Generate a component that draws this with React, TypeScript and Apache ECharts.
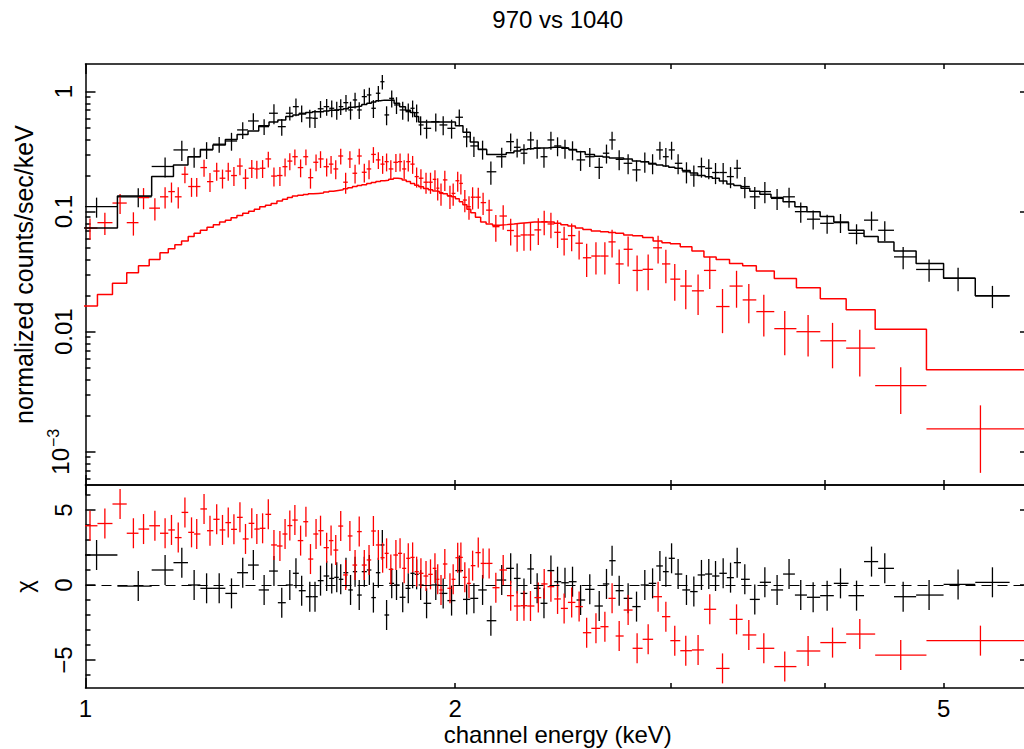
import React, { useEffect, useRef } from "react";
import * as echarts from "echarts";

// ---------- data (energies in keV, rates in counts/s/keV) ----------
const blackE = [
  1.021, 1.104, 1.161, 1.198, 1.226, 1.255, 1.285, 1.315, 1.343, 1.370,
  1.398, 1.424, 1.445, 1.467, 1.484, 1.500, 1.523, 1.538, 1.554, 1.572,
  1.587, 1.602, 1.614, 1.630, 1.644, 1.658, 1.671, 1.687, 1.703, 1.716,
  1.732, 1.745, 1.759, 1.776, 1.792, 1.813, 1.832, 1.847, 1.861, 1.875,
  1.896, 1.929, 1.956, 1.987, 2.016, 2.044, 2.072, 2.106, 2.139, 2.183,
  2.220, 2.247, 2.276, 2.305, 2.333, 2.363, 2.394, 2.424, 2.458, 2.493,
  2.531, 2.575, 2.621, 2.657, 2.685, 2.721, 2.767, 2.811, 2.855, 2.897,
  2.937, 2.970, 3.002, 3.039, 3.087, 3.130, 3.175, 3.219, 3.260, 3.307,
  3.353, 3.395, 3.444, 3.509, 3.576, 3.659, 3.742, 3.825, 3.915, 4.019,
  4.121, 4.247, 4.368, 4.478, 4.635, 4.866, 5.138, 5.480,
];
const blackRate = [
  0.110, 0.133, 0.238, 0.327, 0.287, 0.327, 0.365, 0.388, 0.480, 0.570,
  0.511, 0.661, 0.511, 0.661, 0.750, 0.661, 0.604, 0.600, 0.720, 0.750,
  0.727, 0.704, 0.750, 0.810, 0.704, 0.853, 0.704, 0.909, 0.939, 0.727,
  0.970, 1.210, 0.640, 0.880, 0.775, 0.704, 0.681, 0.727, 0.668, 0.528,
  0.495, 0.562, 0.528, 0.495, 0.612, 0.420, 0.353, 0.331, 0.215, 0.287,
  0.383, 0.344, 0.307, 0.396, 0.337, 0.287, 0.396, 0.353, 0.337, 0.327,
  0.270, 0.287, 0.234, 0.307, 0.396, 0.273, 0.253, 0.223, 0.261, 0.253,
  0.327, 0.287, 0.327, 0.253, 0.215, 0.202, 0.237, 0.230, 0.212, 0.212,
  0.196, 0.230, 0.162, 0.133, 0.147, 0.129, 0.133, 0.100, 0.0866, 0.080,
  0.081, 0.066, 0.085, 0.070, 0.042, 0.033, 0.0279, 0.0199,
];
const blackRelErr = [
  0.19, 0.18, 0.19, 0.19, 0.19, 0.16, 0.15, 0.17, 0.16, 0.16,
  0.15, 0.19, 0.16, 0.13, 0.17, 0.16, 0.17, 0.17, 0.16, 0.16,
  0.16, 0.17, 0.15, 0.16, 0.17, 0.15, 0.16, 0.15, 0.15, 0.17,
  0.15, 0.14, 0.18, 0.16, 0.16, 0.17, 0.17, 0.16, 0.17, 0.18,
  0.18, 0.17, 0.18, 0.18, 0.16, 0.18, 0.19, 0.18, 0.22, 0.19,
  0.17, 0.18, 0.19, 0.17, 0.18, 0.19, 0.17, 0.18, 0.18, 0.18,
  0.19, 0.18, 0.20, 0.18, 0.17, 0.19, 0.19, 0.20, 0.19, 0.19,
  0.17, 0.18, 0.17, 0.19, 0.20, 0.20, 0.19, 0.19, 0.20, 0.20,
  0.20, 0.18, 0.20, 0.21, 0.20, 0.20, 0.19, 0.19, 0.18, 0.18,
  0.18, 0.19, 0.18, 0.19, 0.21, 0.21, 0.22, 0.21,
];
const blackModel = [
  0.073, 0.135, 0.196, 0.245, 0.287, 0.33, 0.36, 0.40, 0.44, 0.47,
  0.52, 0.56, 0.58, 0.62, 0.64, 0.65, 0.67, 0.68, 0.68, 0.69,
  0.70, 0.70, 0.71, 0.72, 0.74, 0.75, 0.76, 0.78, 0.80, 0.82,
  0.84, 0.85, 0.85, 0.853, 0.80, 0.75, 0.70, 0.67, 0.62, 0.56,
  0.56, 0.56, 0.56, 0.56, 0.52, 0.46, 0.38, 0.33, 0.30, 0.30,
  0.31, 0.32, 0.33, 0.335, 0.34, 0.34, 0.344, 0.344, 0.34, 0.33,
  0.315, 0.30, 0.29, 0.285, 0.28, 0.28, 0.275, 0.265, 0.26, 0.25,
  0.245, 0.24, 0.235, 0.23, 0.22, 0.21, 0.20, 0.195, 0.19, 0.18,
  0.17, 0.165, 0.157, 0.148, 0.14, 0.131, 0.121, 0.110, 0.100, 0.091,
  0.082, 0.070, 0.062, 0.056, 0.047, 0.037, 0.0279, 0.0199,
];
const blackChi = [
  2.0, -0.07, 1.0, 1.49, 0, -0.22, -0.22, -0.56, 0.82, 1.33,
  -0.33, 0.93, -1.18, 0, 0.78, -0.38, -0.78, -0.78, 0.29, 0.6,
  0.44, 0.51, 0.38, 0.82, -0.33, 0.89, -0.67, 0.89, 1.0, -0.84,
  0.82, 2.67, -2.0, 0.11, 0, -0.82, -0.22, 0.78, 0.71, 0,
  -1.22, 0, -0.56, -1.04, 0.96, -0.96, -0.89, -0.33, -2.38, 0.33,
  1.11, 0.44, -0.56, 1.07, -0.22, -1.22, 0.96, 0.22, 0.15, 0.22,
  -1.0, -0.29, -1.4, 0.07, 1.62, -0.38, -0.89, -1.44, 0, 0.11,
  1.27, 0.89, 1.78, 0.73, -0.33, -0.44, 0.67, 0.73, 0.6, 0.78,
  0.49, 1.49, 0.38, -0.96, 0.18, -0.33, 0.73, -0.67, -0.82, -0.71,
  0.11, -0.71, 1.56, 1.11, -0.78, -0.67, 0.04, 0.18,
];

const redE = [
  1.0085, 1.037, 1.067, 1.094, 1.115, 1.139, 1.161, 1.175, 1.190, 1.205,
  1.220, 1.232, 1.249, 1.263, 1.279, 1.293, 1.307, 1.321, 1.336, 1.350,
  1.366, 1.379, 1.394, 1.409, 1.424, 1.440, 1.454, 1.467, 1.481, 1.497,
  1.512, 1.525, 1.541, 1.554, 1.572, 1.585, 1.599, 1.614, 1.629, 1.642,
  1.658, 1.671, 1.687, 1.702, 1.716, 1.732, 1.746, 1.759, 1.773, 1.790,
  1.804, 1.818, 1.832, 1.847, 1.861, 1.876, 1.894, 1.910, 1.926, 1.936,
  1.948, 1.962, 1.981, 1.993, 2.010, 2.022, 2.037, 2.053, 2.067, 2.089,
  2.108, 2.132, 2.159, 2.189, 2.220, 2.247, 2.276, 2.304, 2.338, 2.364,
  2.394, 2.424, 2.454, 2.489, 2.524, 2.560, 2.605, 2.649, 2.685, 2.721,
  2.767, 2.814, 2.873, 2.927, 2.970, 3.020, 3.083, 3.155, 3.225, 3.303,
  3.391, 3.470, 3.569, 3.712, 3.878, 4.060, 4.273, 4.614, 5.358,
];
const redRate = [
  0.073, 0.081, 0.118, 0.081, 0.131, 0.107, 0.133, 0.147, 0.133, 0.205,
  0.162, 0.162, 0.233, 0.178, 0.218, 0.190, 0.218, 0.200, 0.240, 0.190,
  0.230, 0.227, 0.230, 0.275, 0.198, 0.200, 0.237, 0.264, 0.287, 0.233,
  0.287, 0.192, 0.258, 0.275, 0.237, 0.249, 0.227, 0.291, 0.176, 0.275,
  0.209, 0.291, 0.213, 0.227, 0.300, 0.270, 0.249, 0.261, 0.227, 0.258,
  0.261, 0.227, 0.261, 0.249, 0.196, 0.190, 0.176, 0.176, 0.186, 0.157,
  0.142, 0.184, 0.135, 0.142, 0.181, 0.172, 0.125, 0.110, 0.132, 0.132,
  0.119, 0.103, 0.075, 0.092, 0.0697, 0.0626, 0.064, 0.064, 0.0705, 0.0826,
  0.079, 0.0673, 0.059, 0.0632, 0.0546, 0.0413, 0.0427, 0.0427, 0.056, 0.0367,
  0.0486, 0.0324, 0.0331, 0.050, 0.0367, 0.0274, 0.0240, 0.0219, 0.0324, 0.0162,
  0.0240, 0.0184, 0.0147, 0.0106, 0.0100, 0.0084, 0.0073, 0.00356, 0.00155,
];
const redRelErr = [
  0.20, 0.21, 0.19, 0.22, 0.20, 0.21, 0.20, 0.19, 0.20, 0.16,
  0.18, 0.18, 0.16, 0.18, 0.17, 0.18, 0.17, 0.18, 0.16, 0.19,
  0.17, 0.17, 0.17, 0.15, 0.18, 0.18, 0.17, 0.16, 0.15, 0.17,
  0.15, 0.19, 0.16, 0.16, 0.17, 0.17, 0.18, 0.15, 0.20, 0.16,
  0.18, 0.15, 0.18, 0.18, 0.15, 0.16, 0.17, 0.17, 0.18, 0.17,
  0.17, 0.18, 0.17, 0.17, 0.19, 0.19, 0.20, 0.20, 0.19, 0.21,
  0.21, 0.19, 0.22, 0.21, 0.19, 0.19, 0.21, 0.22, 0.21, 0.20,
  0.21, 0.22, 0.25, 0.23, 0.25, 0.26, 0.26, 0.26, 0.25, 0.23,
  0.24, 0.26, 0.27, 0.26, 0.27, 0.31, 0.30, 0.30, 0.26, 0.32,
  0.28, 0.33, 0.33, 0.26, 0.31, 0.34, 0.36, 0.37, 0.30, 0.40,
  0.34, 0.36, 0.38, 0.40, 0.38, 0.41, 0.42, 0.42, 0.57,
];
const redModel = [
  0.0164, 0.0204, 0.0253, 0.031, 0.0355, 0.040, 0.0455, 0.049, 0.053, 0.057,
  0.062, 0.066, 0.070, 0.074, 0.078, 0.082, 0.085, 0.089, 0.093, 0.097,
  0.101, 0.105, 0.110, 0.113, 0.117, 0.123, 0.127, 0.131, 0.135, 0.137,
  0.139, 0.141, 0.142, 0.143, 0.146, 0.148, 0.150, 0.152, 0.155, 0.158,
  0.162, 0.165, 0.168, 0.172, 0.175, 0.178, 0.181, 0.183, 0.186, 0.190,
  0.188, 0.184, 0.178, 0.172, 0.166, 0.161, 0.156, 0.152, 0.149, 0.147,
  0.144, 0.141, 0.136, 0.133, 0.128, 0.121, 0.114, 0.105, 0.098, 0.090,
  0.082, 0.079, 0.077, 0.078, 0.079, 0.080, 0.081, 0.082, 0.082, 0.082,
  0.082, 0.080, 0.078, 0.076, 0.073, 0.071, 0.069, 0.068, 0.067, 0.066,
  0.064, 0.063, 0.061, 0.057, 0.055, 0.054, 0.051, 0.047, 0.042, 0.040,
  0.037, 0.0355, 0.032, 0.0277, 0.0232, 0.0188, 0.0152, 0.0105, 0.00481,
];
const redChi = [
  3.95, 4.1, 5.4, 3.45, 3.73, 3.95, 3.45, 3.67, 3.16, 4.84,
  3.51, 3.4, 5.07, 3.62, 4.38, 3.67, 4.16, 3.71, 4.51, 3.07,
  4.11, 3.73, 3.78, 4.71, 2.67, 2.6, 3.4, 3.96, 4.33, 2.96,
  4.22, 1.73, 3.4, 3.62, 2.49, 2.96, 2.33, 3.93, 0.67, 3.27,
  1.33, 3.56, 1.33, 1.67, 3.6, 2.67, 1.82, 2.11, 1.04, 2.0,
  2.11, 1.11, 1.78, 1.84, 0.89, 0.78, 0.6, 0.71, 1.11, 0.38,
  -0.33, 1.4, -0.22, 0.38, 1.82, 1.84, 0.51, 0.11, 1.29, 2.16,
  1.44, 1.44, -0.18, 1.0, -0.71, -1.4, -1.38, -1.4, -0.84, 0.07,
  -0.11, -0.93, -1.56, -1.16, -1.44, -3.18, -2.89, -2.78, -0.89, -3.4,
  -1.67, -4.22, -3.62, -0.78, -2.11, -3.71, -4.38, -4.33, -1.62, -5.56,
  -2.29, -3.33, -4.22, -5.44, -4.4, -3.84, -3.27, -4.67, -3.71,
];
// explicit channel-group edges (keV) for the widest red bins: [edge index, energy]
const redWideEdges = [[107, 4.398], [108, 4.842], [109, 5.95]];

// ---------- axes ----------
const xRange = [1, 5.88];
const yRange = [5.28e-4, 1.70];
const chiRange = [-6.867, 6.667];
const xLabelVals = [1, 2, 5];
const xMajorTicks = [1];
const xMinorTicks = [2, 3, 4, 5];
const yLabelVals = [1, 0.1, 0.01, 0.001];
const yLabelTexts = ["1", "0.1", "0.01", "{m|10}{e|\u22123}"];
const yMinorTicks = [
  6e-4, 7e-4, 8e-4, 9e-4,
  0.002, 0.003, 0.004, 0.005, 0.006, 0.007, 0.008, 0.009,
  0.02, 0.03, 0.04, 0.05, 0.06, 0.07, 0.08, 0.09,
  0.2, 0.3, 0.4, 0.5, 0.6, 0.7, 0.8, 0.9,
];
const chiLabelVals = [5, 0, -5];
const chiLabelTexts = ["5", "0", "\u22125"];
const chiMinorTicks = [-6, -4, -3, -2, -1, 1, 2, 3, 4, 6];

const FONT = '"Liberation Sans", Arial, Helvetica, sans-serif';
const lg = Math.log10;
const BLACK = "#000000";
const RED = "#ff0000";

function nearest(vals: number[], v: number) {
  let best = 0;
  for (let i = 1; i < vals.length; i++) {
    if (Math.abs(vals[i] - v) < Math.abs(vals[best] - v)) best = i;
  }
  return best;
}

function binEdges(centers: number[], overrides: number[][]) {
  const n = centers.length;
  const edges: number[] = new Array(n + 1);
  for (let i = 1; i < n; i++) edges[i] = Math.sqrt(centers[i - 1] * centers[i]);
  edges[0] = (centers[0] * centers[0]) / edges[1];
  edges[n] = (centers[n - 1] * centers[n - 1]) / edges[n - 1];
  overrides.forEach(([i, e]) => (edges[i] = e));
  return edges;
}

function crossData(E: number[], rate: number[], rel: number[], edges: number[]) {
  return E.map((e, i) => {
    const v = rate[i];
    const er = v * rel[i];
    return [lg(edges[i]), lg(edges[i + 1]), lg(v), lg(v - er), lg(v + er), lg(e)];
  });
}

function chiData(E: number[], chi: number[], edges: number[]) {
  return E.map((e, i) => [lg(edges[i]), lg(edges[i + 1]), chi[i], chi[i] - 1, chi[i] + 1, lg(e)]);
}

function stepData(model: number[], edges: number[]) {
  const d = model.map((m, i) => [lg(edges[i]), lg(m)]);
  d.push([lg(edges[edges.length - 1]), lg(model[model.length - 1])]);
  return d;
}

function crossSeries(data: number[][], color: string, xi: number, yi: number, extra: any = {}) {
  return {
    type: "custom",
    xAxisIndex: xi,
    yAxisIndex: yi,
    clip: true,
    silent: true,
    data,
    encode: { x: [0, 1], y: [2, 3, 4] },
    renderItem: (_p: any, api: any) => {
      const y = api.value(2);
      const a = api.coord([api.value(0), y]);
      const b = api.coord([api.value(1), y]);
      const c = api.coord([api.value(5), api.value(3)]);
      const d = api.coord([api.value(5), api.value(4)]);
      const style = { stroke: color, lineWidth: 1.3, fill: null };
      return {
        type: "group",
        children: [
          { type: "line", shape: { x1: a[0], y1: a[1], x2: b[0], y2: b[1] }, style },
          { type: "line", shape: { x1: c[0], y1: c[1], x2: d[0], y2: d[1] }, style },
        ],
      };
    },
    ...extra,
  };
}

const axLine = { color: BLACK, width: 1.5 };

function baseAxis(grid: number, position: string, min: number, max: number, ticks: number[], len: number, showLine: boolean) {
  return {
    type: "value",
    gridIndex: grid,
    position,
    min,
    max,
    silent: true,
    axisLine: { show: showLine, onZero: false, lineStyle: axLine },
    axisTick: { show: true, inside: true, length: len, customValues: ticks, lineStyle: axLine },
    axisLabel: { show: false },
    splitLine: { show: false },
    minorTick: { show: false },
  };
}

const labelFont = { fontFamily: FONT, fontSize: 24, color: BLACK };

function buildOption() {
  const bEdges = binEdges(blackE, []);
  const rEdges = binEdges(redE, redWideEdges);

  const X0 = lg(xRange[0]);
  const X1 = lg(xRange[1]);
  const Y0 = lg(yRange[0]);
  const Y1 = lg(yRange[1]);

  const xMaj = xMajorTicks.map(lg);
  const xMin = xMinorTicks.map(lg);
  const yMaj = yLabelVals.map(lg);
  const yMin = yMinorTicks.map(lg);

  const xAxes: any[] = [
    baseAxis(0, "bottom", X0, X1, xMaj, 10, true),
    baseAxis(0, "bottom", X0, X1, xMin, 5, false),
    baseAxis(0, "top", X0, X1, xMaj, 10, true),
    baseAxis(0, "top", X0, X1, xMin, 5, false),
    {
      ...baseAxis(1, "bottom", X0, X1, xMaj, 10, true),
      axisLabel: {
        show: true,
        customValues: xLabelVals.map(lg),
        formatter: (v: number) => String(xLabelVals[nearest(xLabelVals, Math.pow(10, v))]),
        margin: 8,
        ...labelFont,
      },
      name: "channel energy (keV)",
      nameLocation: "middle",
      nameGap: 34,
      nameTextStyle: { ...labelFont },
    },
    baseAxis(1, "bottom", X0, X1, xMin, 5, false),
    baseAxis(1, "top", X0, X1, xMaj, 10, true),
    baseAxis(1, "top", X0, X1, xMin, 5, false),
  ];

  const yAxes: any[] = [
    {
      ...baseAxis(0, "left", Y0, Y1, yMaj, 10, true),
      axisLabel: {
        show: true,
        customValues: yMaj,
        rotate: 90,
        margin: 10,
        formatter: (v: number) => yLabelTexts[nearest(yLabelVals.map(lg), v)],
        rich: {
          m: { fontFamily: FONT, fontSize: 24, color: BLACK, lineHeight: 30 },
          e: { fontFamily: FONT, fontSize: 16, color: BLACK, lineHeight: 30, verticalAlign: "top", padding: [0, 0, 0, 1] },
        },
        ...labelFont,
      },
      name: "normalized counts/sec/keV",
      nameLocation: "middle",
      nameGap: 49,
      nameTextStyle: { ...labelFont, fontSize: 25 },
    },
    baseAxis(0, "left", Y0, Y1, yMin, 5, false),
    baseAxis(0, "right", Y0, Y1, yMaj, 10, true),
    baseAxis(0, "right", Y0, Y1, yMin, 5, false),
    {
      ...baseAxis(1, "left", chiRange[0], chiRange[1], chiLabelVals, 10, true),
      axisLabel: {
        show: true,
        customValues: chiLabelVals,
        rotate: 90,
        margin: 10,
        formatter: (v: number) => chiLabelTexts[nearest(chiLabelVals, v)],
        ...labelFont,
      },
      name: "\u03C7",
      nameLocation: "middle",
      nameGap: 49,
      nameTextStyle: { ...labelFont },
    },
    baseAxis(1, "left", chiRange[0], chiRange[1], chiMinorTicks, 5, false),
    baseAxis(1, "right", chiRange[0], chiRange[1], chiLabelVals, 10, true),
    baseAxis(1, "right", chiRange[0], chiRange[1], chiMinorTicks, 5, false),
  ];

  const stepLine = (data: number[][], color: string) => ({
    type: "line",
    xAxisIndex: 0,
    yAxisIndex: 0,
    step: "end",
    data,
    symbol: "none",
    showSymbol: false,
    clip: true,
    silent: true,
    lineStyle: { color, width: 1.5 },
  });

  return {
    animation: false,
    backgroundColor: "#ffffff",
    textStyle: { fontFamily: FONT },
    grid: [
      { left: 85.5, top: 64, width: 944.5, height: 421 },
      { left: 85.5, top: 485, width: 944.5, height: 203 },
    ],
    xAxis: xAxes,
    yAxis: yAxes,
    graphic: [
      {
        type: "text",
        x: 557.75,
        y: 19,
        silent: true,
        style: {
          text: "970 vs 1040",
          fontFamily: FONT,
          fontSize: 24,
          fill: BLACK,
          align: "center",
          verticalAlign: "middle",
          textAlign: "center",
          textVerticalAlign: "middle",
        },
      },
    ],
    series: [
      crossSeries(crossData(blackE, blackRate, blackRelErr, bEdges), BLACK, 0, 0),
      crossSeries(crossData(redE, redRate, redRelErr, rEdges), RED, 0, 0),
      stepLine(stepData(blackModel, bEdges), BLACK),
      stepLine(stepData(redModel, rEdges), RED),
      crossSeries(chiData(blackE, blackChi, bEdges), BLACK, 4, 4, {
        markLine: {
          silent: true,
          symbol: ["none", "none"],
          label: { show: false },
          lineStyle: { color: BLACK, type: [10, 6], width: 1.2 },
          data: [{ yAxis: 0 }],
        },
      }),
      crossSeries(chiData(redE, redChi, rEdges), RED, 4, 4),
    ],
  };
}

export default function App() {
  const ref = useRef<HTMLDivElement>(null);
  useEffect(() => {
    if (!ref.current) return;
    const chart = echarts.init(ref.current, null, { renderer: "svg" });
    chart.setOption(buildOption() as any);
    return () => chart.dispose();
  }, []);
  return (
    <div
      style={{ position: "absolute", left: 0, top: 0, width: 1024, height: 749, overflow: "hidden", background: "#fff" }}
    >
      <div ref={ref} style={{ width: 1040, height: 749 }} />
    </div>
  );
}
